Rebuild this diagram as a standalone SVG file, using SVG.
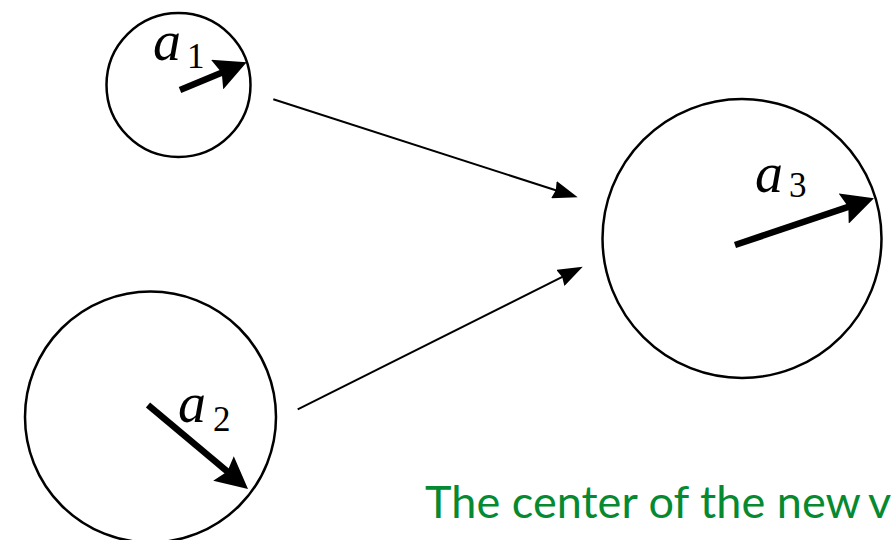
<svg xmlns="http://www.w3.org/2000/svg" width="891" height="540" viewBox="0 0 891 540">
  <style>
    .ring { fill: none; stroke: #000; stroke-width: 2.5; }
    .vec { stroke: #000; stroke-width: 6.5; stroke-linecap: butt; fill: none; marker-end: url(#head-bold); }
    .link { stroke: #000; stroke-width: 2; fill: none; marker-end: url(#head-thin); }
    .math { font-family: "Liberation Serif", "DejaVu Serif", serif; font-style: italic; font-size: 56px; fill: #000; }
    .sub { font-style: normal; font-size: 35px; }
    .note { font-family: Lato, "Open Sans", "Noto Sans", sans-serif; font-size: 45px; fill: #068a31; }
  </style>
  <defs>
    <marker id="head-bold" markerUnits="userSpaceOnUse" viewBox="0 0 32 32" markerWidth="32" markerHeight="32" refX="12" refY="16" orient="auto">
      <path d="M0,0 L32,16 L0,32 L5,16 z" fill="#000"/>
    </marker>
    <marker id="head-thin" markerUnits="userSpaceOnUse" viewBox="0 0 25 18" markerWidth="25" markerHeight="18" refX="15" refY="9" orient="auto">
      <path d="M0,0 L25,9 L0,18 L2,9 z" fill="#000"/>
    </marker>
  </defs>

  <!-- input vector a1 -->
  <g id="node-a1">
    <circle class="ring" cx="178.5" cy="85" r="72"/>
    <line class="vec" x1="180" y1="90" x2="228.2" y2="70"/>
    <text class="math" x="153" y="60">a<tspan class="sub" x="187" y="67.7">1</tspan></text>
  </g>

  <!-- input vector a2 -->
  <g id="node-a2">
    <circle class="ring" cx="150.5" cy="417" r="125.5"/>
    <line class="vec" x1="148" y1="405" x2="232.7" y2="476.1"/>
    <text class="math" x="178" y="421.7">a<tspan class="sub" x="213" y="431">2</tspan></text>
  </g>

  <!-- combined vector a3 -->
  <g id="node-a3">
    <circle class="ring" cx="742" cy="238.5" r="139.5" stroke-width="3"/>
    <line class="vec" x1="735" y1="245" x2="855" y2="204.7"/>
    <text class="math" x="755" y="191.7">a<tspan class="sub" x="789" y="196.5">3</tspan></text>
  </g>

  <!-- connectors -->
  <g id="connectors">
    <line class="link" x1="273.3" y1="99.3" x2="568.2" y2="194.2"/>
    <line class="link" x1="297.7" y1="409.3" x2="573.8" y2="271.2"/>
  </g>

  <text class="note" x="425" y="518"><tspan textLength="435" lengthAdjust="spacing">The center of the new</tspan> <tspan x="868">v</tspan></text>
</svg>
